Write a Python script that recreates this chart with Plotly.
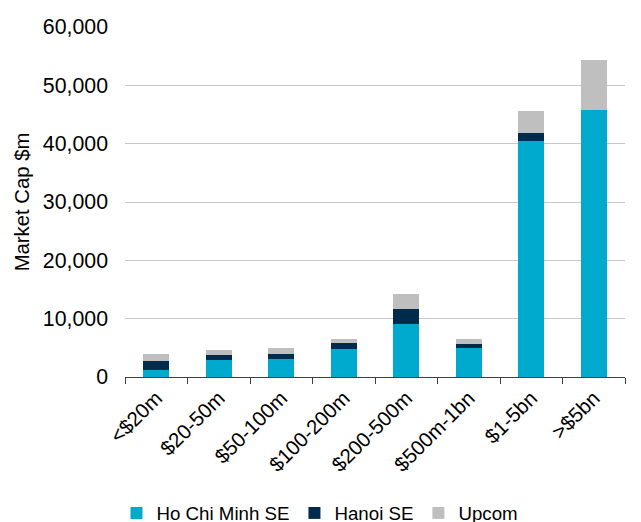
import plotly.graph_objects as go

categories = ["<$20m", "$20-50m", "$50-100m", "$100-200m", "$200-500m", "$500m-1bn", "$1-5bn", ">$5bn"]
hcm = [1200, 2900, 3100, 4800, 9100, 4900, 40400, 45800]
hanoi = [1550, 800, 900, 1000, 2550, 800, 1400, 0]
upcom = [1200, 900, 900, 800, 2550, 750, 3850, 8500]

FONT = "Liberation Sans, Arial, sans-serif"

fig = go.Figure()
fig.add_trace(go.Bar(x=categories, y=hcm, name="Ho Chi Minh SE", marker=dict(color="#00A9CE", line=dict(width=0))))
fig.add_trace(go.Bar(x=categories, y=hanoi, name="Hanoi SE", marker=dict(color="#002B4C", line=dict(width=0))))
fig.add_trace(go.Bar(x=categories, y=upcom, name="Upcom", marker=dict(color="#BFBFBF", line=dict(width=0))))

fig.update_layout(
    barmode="stack",
    bargap=0.58,
    width=641,
    height=522,
    margin=dict(l=125, r=16, t=27, b=145, autoexpand=False),
    paper_bgcolor="white",
    plot_bgcolor="white",
    font=dict(family=FONT, size=19, color="black"),
    showlegend=True,
    legend=dict(
        orientation="h",
        x=0.39,
        xanchor="center",
        y=-0.335,
        yanchor="top",
        font=dict(family=FONT, size=18.7, color="black"),
        itemwidth=30,
        traceorder="normal",
    ),
    xaxis=dict(
        type="category",
        tickangle=-45,
        automargin=False,
        tickfont=dict(family=FONT, size=20.5, color="black"),
        showline=True,
        linecolor="#404040",
        linewidth=1,
        ticks="outside",
        tickson="boundaries",
        ticklen=6,
        tickcolor="#404040",
        showgrid=False,
    ),
    yaxis=dict(
        range=[0, 60000],
        automargin=False,
        tickvals=[0, 10000, 20000, 30000, 40000, 50000, 60000],
        ticktext=["0", "10,000", "20,000", "30,000", "40,000", "50,000", "60,000"],
        tickfont=dict(family=FONT, size=21.3, color="black"),
        showgrid=True,
        gridcolor="#C8C8C8",
        gridwidth=1,
        zeroline=False,
        showline=False,
        ticks="",
        ticklabelstandoff=16,
        title=dict(text="Market Cap $m", font=dict(family=FONT, size=20.3, color="black"), standoff=7),
    ),
)

fig.write_html("out.html")
